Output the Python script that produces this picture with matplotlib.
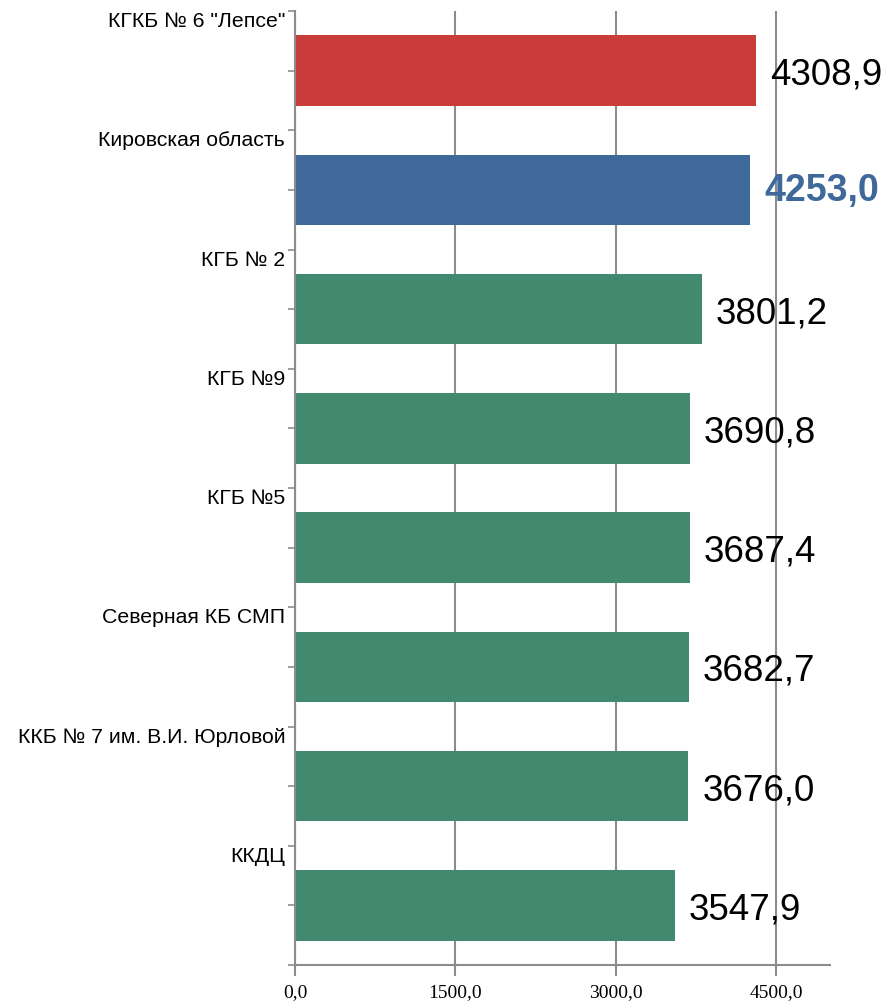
import numpy as np
import matplotlib.pyplot as plt
import matplotlib.transforms as mtransforms

# данные
names = ['КГКБ № 6 "Лепсе"', 'Кировская область', 'КГБ № 2', 'КГБ №9', 'КГБ №5',
         'Северная КБ СМП', 'ККБ № 7 им. В.И. Юрловой', 'ККДЦ']
values = [4308.9, 4253.0, 3801.2, 3690.8, 3687.4, 3682.7, 3676.0, 3547.9]
bar_colors = ['#C93C3A', '#3E699A'] + ['#428A6F'] * 6
x_ticks = [0, 1500, 3000, 4500]

grey = '#8C8C8C'

fig = plt.figure(figsize=(8.89, 10.03), dpi=100)
ax = fig.add_axes([0.3318, 0.0369, 0.6018, 0.9511])

pos = np.arange(len(names))
ax.barh(pos, values, height=0.59, color=bar_colors, zorder=3)

for i, v in enumerate(values):
    lbl = f'{v:.1f}'.replace('.', ',')
    if i == 1:
        ax.annotate(lbl, (v, i), xytext=(10, 0), textcoords='offset points',
                    va='center', ha='left', fontsize=27, fontweight='bold',
                    color='#3E699A', family='Liberation Sans', zorder=4)
    else:
        ax.annotate(lbl, (v, i + 0.03), xytext=(10, 0), textcoords='offset points',
                    va='center', ha='left', fontsize=26.5, color='black',
                    family='Liberation Sans', zorder=4)

ax.set_xlim(0, 5000)
ax.set_ylim(len(names) - 0.5, -0.5)

ax.set_xticks(x_ticks)
ax.set_xticklabels([f'{t:.1f}'.replace('.', ',') for t in x_ticks],
                   family='Liberation Serif', fontsize=14)
ax.xaxis.grid(True, color=grey, lw=1.5, zorder=0)

yt = np.arange(-0.5, len(names), 0.5)
ax.set_yticks(yt)
ylabels = []
for t in yt:
    k = t + 0.5
    if k == int(k) and int(k) < len(names):
        ylabels.append(names[int(k)])
    else:
        ylabels.append('')
ax.set_yticklabels(ylabels, family='Liberation Sans', fontsize=15.3, va='top')
# сдвиг подписей чуть вниз от границы категории
shift = mtransforms.ScaledTranslation(0, -3 / 72, fig.dpi_scale_trans)
for t in ax.get_yticklabels():
    t.set_transform(t.get_transform() + shift)

ax.tick_params(axis='y', length=5, width=1.2, color=grey, pad=2)
ax.tick_params(axis='x', length=8, width=1.5, color=grey, pad=5)

for s in ['top', 'right']:
    ax.spines[s].set_visible(False)
for s in ['left', 'bottom']:
    ax.spines[s].set_color(grey)
    ax.spines[s].set_linewidth(1.5)
ax.spines['left'].set_zorder(5)

fig.savefig('out.png', dpi=100)
